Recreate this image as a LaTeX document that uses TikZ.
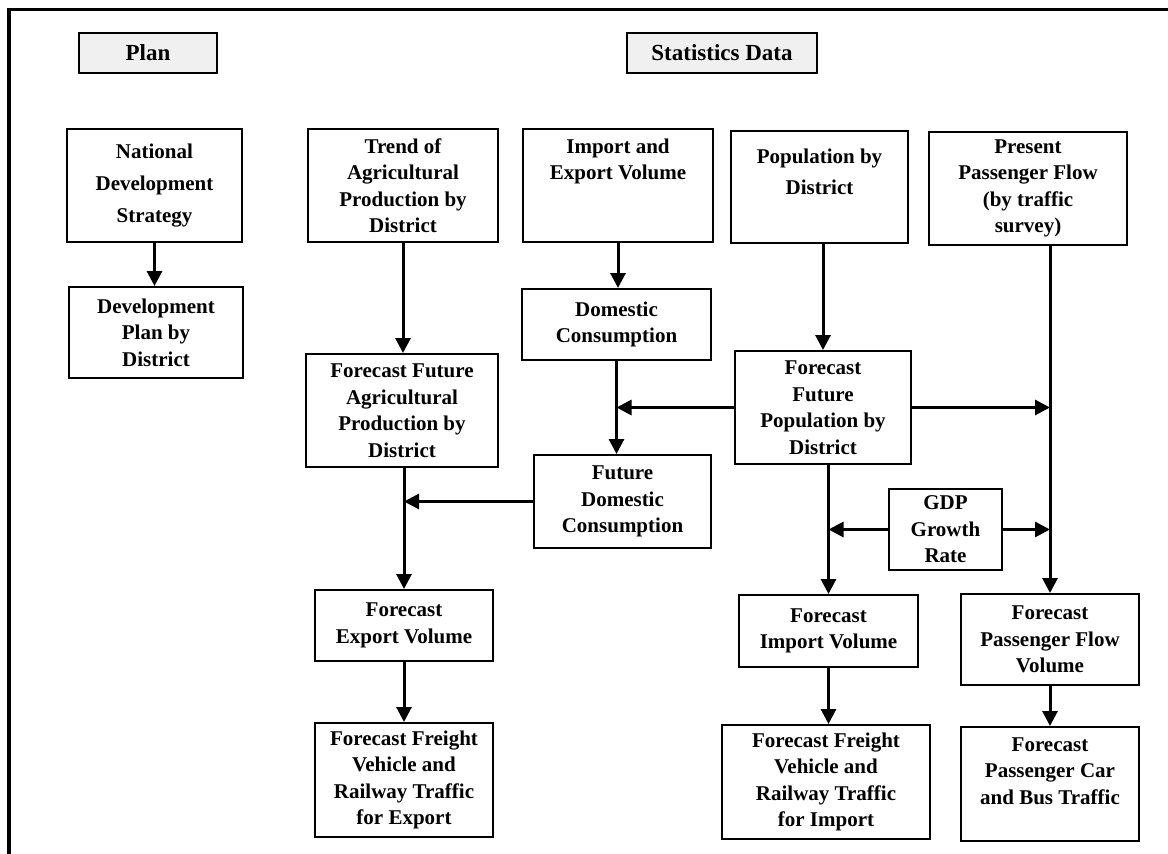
\documentclass[tikz,border=0pt]{standalone}
\usepackage{fontspec}
\setmainfont{Liberation Serif}
\usetikzlibrary{arrows.meta}
\definecolor{headgray}{RGB}{240,240,240}
\begin{document}
\begin{tikzpicture}[x=1pt,y=-1pt,
  box/.style={draw, line width=2pt, inner sep=0pt, align=center,
    font=\bfseries\fontsize{21}{26.5}\selectfont},
  head/.style={draw, line width=2pt, fill=headgray, inner sep=0pt,
    font=\bfseries\fontsize{23}{28}\selectfont},
  arr/.style={line width=3pt, -{Triangle[width=15pt,length=15pt]}},
  plain/.style={line width=3pt}]
\useasboundingbox (0,0) rectangle (1168,854);
% outer frame (only top and left edges visible)
\draw[line width=3.3pt, line join=miter] (1168,9.5) -- (9,9.5) -- (9,854);

% headers
\node[head, minimum width=138pt, minimum height=40pt] (plan) at (148,53) {Plan};
\node[head, minimum width=190pt, minimum height=40pt] (stats) at (722,53) {Statistics Data};

% boxes
\node[box, minimum width=175pt, minimum height=113pt,
      font=\bfseries\fontsize{21}{32}\selectfont] (nds) at (154.5,185.5) {National\\Development\\Strategy};
\node[box, minimum width=174pt, minimum height=91pt] (dpd) at (156,332.5) {Development\\Plan by\\District};
\node[box, minimum width=190pt, minimum height=113pt] (trend) at (403,185.5) {Trend of\\Agricultural\\Production by\\District};
\node[box, minimum width=190pt, minimum height=113pt] (imp) at (618,185.5) {Import and\\Export Volume\\~\\~};
\node[box, minimum width=177pt, minimum height=112pt,
      font=\bfseries\fontsize{21}{31}\selectfont] (pop) at (819.5,187) {Population by\\District\\~};
\node[box, minimum width=198pt, minimum height=113pt] (ppf) at (1028,188.5) {Present\\Passenger Flow\\(by traffic\\survey)};
\node[box, minimum width=189pt, minimum height=71pt] (dc) at (616.5,324.5) {Domestic\\Consumption};
\node[box, minimum width=176pt, minimum height=113pt] (ffp) at (823,407.5) {Forecast\\Future\\Population by\\District};
\node[box, minimum width=192pt, minimum height=113pt] (ffa) at (402,410.5) {Forecast Future\\Agricultural\\Production by\\District};
\node[box, minimum width=177pt, minimum height=93pt] (fdc) at (622.5,501.5) {Future\\Domestic\\Consumption};
\node[box, minimum width=113pt, minimum height=81pt] (gdp) at (945.5,529.5) {GDP\\Growth\\Rate};
\node[box, minimum width=178pt, minimum height=71pt] (fev) at (404,625.5) {Forecast\\Export Volume};
\node[box, minimum width=179pt, minimum height=72pt] (fiv) at (828.5,631) {Forecast\\Import Volume};
\node[box, minimum width=178pt, minimum height=91pt] (fpfv) at (1050,639.5) {Forecast\\Passenger Flow\\Volume};
\node[box, minimum width=178pt, minimum height=114pt] (ffe) at (404,780) {Forecast Freight\\Vehicle and\\Railway Traffic\\for Export};
\node[box, minimum width=208pt, minimum height=114pt] (ffi) at (826,782) {Forecast Freight\\Vehicle and\\Railway Traffic\\for Import};
\node[box, minimum width=178pt, minimum height=114pt] (fpc) at (1050,784) {Forecast\\Passenger Car\\and Bus Traffic\\~};

% connectors
\draw[arr] (nds.south) -- (nds.south |- dpd.north);
\draw[arr] (trend.south) -- (trend.south |- ffa.north);
\draw[arr] (imp.south) -- (imp.south |- dc.north);
\draw[arr] (dc.south) -- (dc.south |- fdc.north);
\draw[arr] (ffp.north |- pop.south) -- (ffp.north);
\draw[arr] (fpfv.north |- ppf.south) -- (fpfv.north);
\draw[arr] (ffp.west) -- (dc.south |- ffp.west);
\draw[arr] (ffp.east) -- (fpfv.north |- ffp.east);
\draw[arr] (fev.north |- ffa.south) -- (fev.north);
\draw[arr] (fdc.west) -- (fev.north |- fdc.west);
\draw[arr] (fiv.north |- ffp.south) -- (fiv.north);
\draw[arr] (gdp.west) -- (fiv.north |- gdp.west);
\draw[arr] (gdp.east) -- (fpfv.north |- gdp.east);
\draw[arr] (fev.south) -- (fev.south |- ffe.north);
\draw[arr] (fiv.south) -- (fiv.south |- ffi.north);
\draw[arr] (fpfv.south) -- (fpfv.south |- fpc.north);
\end{tikzpicture}
\end{document}
